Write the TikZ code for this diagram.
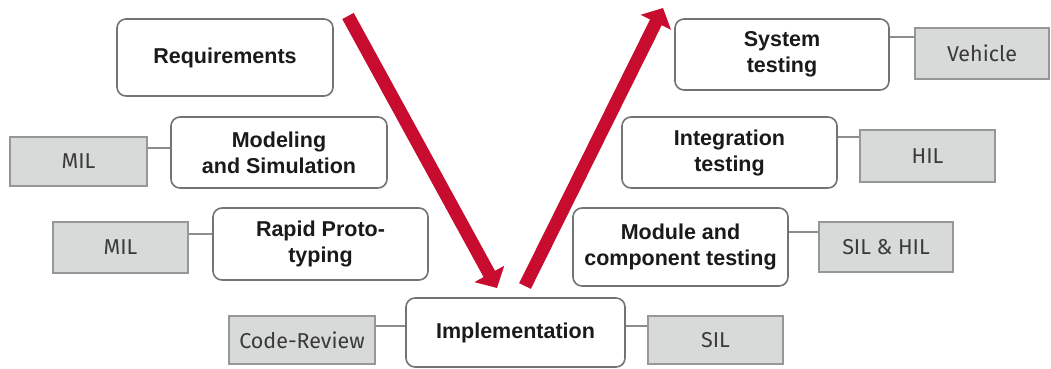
\documentclass[tikz,border=0pt]{standalone}
\usepackage{fontspec}
\setmainfont{Liberation Sans}
\newfontfamily\sidefam{Fira Sans}
\usetikzlibrary{arrows.meta}
\definecolor{redc}{RGB}{200,12,48}
\definecolor{boxgray}{RGB}{112,116,116}
\definecolor{sidefill}{RGB}{216,218,218}
\definecolor{sidegray}{RGB}{150,152,152}
\definecolor{sidetext}{RGB}{58,58,58}
\definecolor{maintext}{RGB}{26,26,26}
\definecolor{linkgray}{RGB}{140,142,142}
\tikzset{
  mainbox/.style={draw=boxgray, line width=1.6pt, rounded corners=9pt, fill=white,
    align=center, inner sep=0pt, text=maintext,
    font=\bfseries\fontsize{21.5}{26}\selectfont},
  sidebox/.style={draw=sidegray, fill=sidefill, line width=1.2pt, inner sep=0pt,
    text=sidetext, font=\sidefam\fontsize{21.5}{26}\selectfont},
  link/.style={draw=linkgray, line width=1.6pt},
  vflow/.style={draw=redc, line width=13pt, -{Triangle[width=33pt,length=16pt]}}
}
\begin{document}
\begin{tikzpicture}[x=1pt,y=-1pt]
\useasboundingbox (0,0) rectangle (1051,368);
% main boxes
\node[mainbox, minimum width=216pt, minimum height=77pt] (req) at (225,57.5) {Requirements};
\node[mainbox, minimum width=216pt, minimum height=71pt] (mod) at (279,152.5) {Modeling\\and Simulation};
\node[mainbox, minimum width=215pt, minimum height=72pt] (rap) at (320.5,244) {Rapid Proto-\\typing};
\node[mainbox, minimum width=219pt, minimum height=69pt] (impl) at (515.5,332.5) {Implementation};
\node[mainbox, minimum width=215pt, minimum height=78pt] (modc) at (680.5,247) {Module and\\component testing};
\node[mainbox, minimum width=215pt, minimum height=71pt] (integ) at (729.5,152.5) {Integration\\testing};
\node[mainbox, minimum width=214pt, minimum height=71pt] (sys) at (782,54.5) {System\\testing};
% side boxes
\node[sidebox, minimum width=137pt, minimum height=49pt] (mil1) at (78.5,161.5) {MIL};
\node[sidebox, minimum width=135pt, minimum height=51pt] (mil2) at (120.5,247.5) {MIL};
\node[sidebox, minimum width=146pt, minimum height=48pt] (cr) at (302,340) {Code-Review};
\node[sidebox, minimum width=135pt, minimum height=48pt] (sil) at (715.5,340) {SIL};
\node[sidebox, minimum width=134pt, minimum height=50pt] (silhil) at (886,247) {SIL \& HIL};
\node[sidebox, minimum width=135pt, minimum height=52pt] (hil) at (927.5,156) {HIL};
\node[sidebox, minimum width=134pt, minimum height=51pt] (veh) at (982,53.5) {Vehicle};
% links
\draw[link] ([yshift=13.5pt]mil1.east) -- ([yshift=13.5pt]mil1.east -| mod.west);
\draw[link] ([yshift=13.5pt]mil2.east) -- ([yshift=13.5pt]mil2.east -| rap.west);
\draw[link] ([yshift=14pt]cr.east) -- ([yshift=14pt]cr.east -| impl.west);
\draw[link] ([yshift=14pt]sil.west) -- ([yshift=14pt]sil.west -| impl.east);
\draw[link] ([yshift=15pt]silhil.west) -- ([yshift=15pt]silhil.west -| modc.east);
\draw[link] ([yshift=19pt]hil.west) -- ([yshift=19pt]hil.west -| integ.east);
\draw[link] ([yshift=16.5pt]veh.west) -- ([yshift=16.5pt]veh.west -| sys.east);
% V arrows
\coordinate (dstart) at (348,16);
\coordinate (dend) at (497,288);
\coordinate (ustart) at (525,286);
\coordinate (uend) at (663,8);
\draw[vflow] (dstart) -- (dend);
\draw[vflow] (ustart) -- (uend);
\end{tikzpicture}
\end{document}
